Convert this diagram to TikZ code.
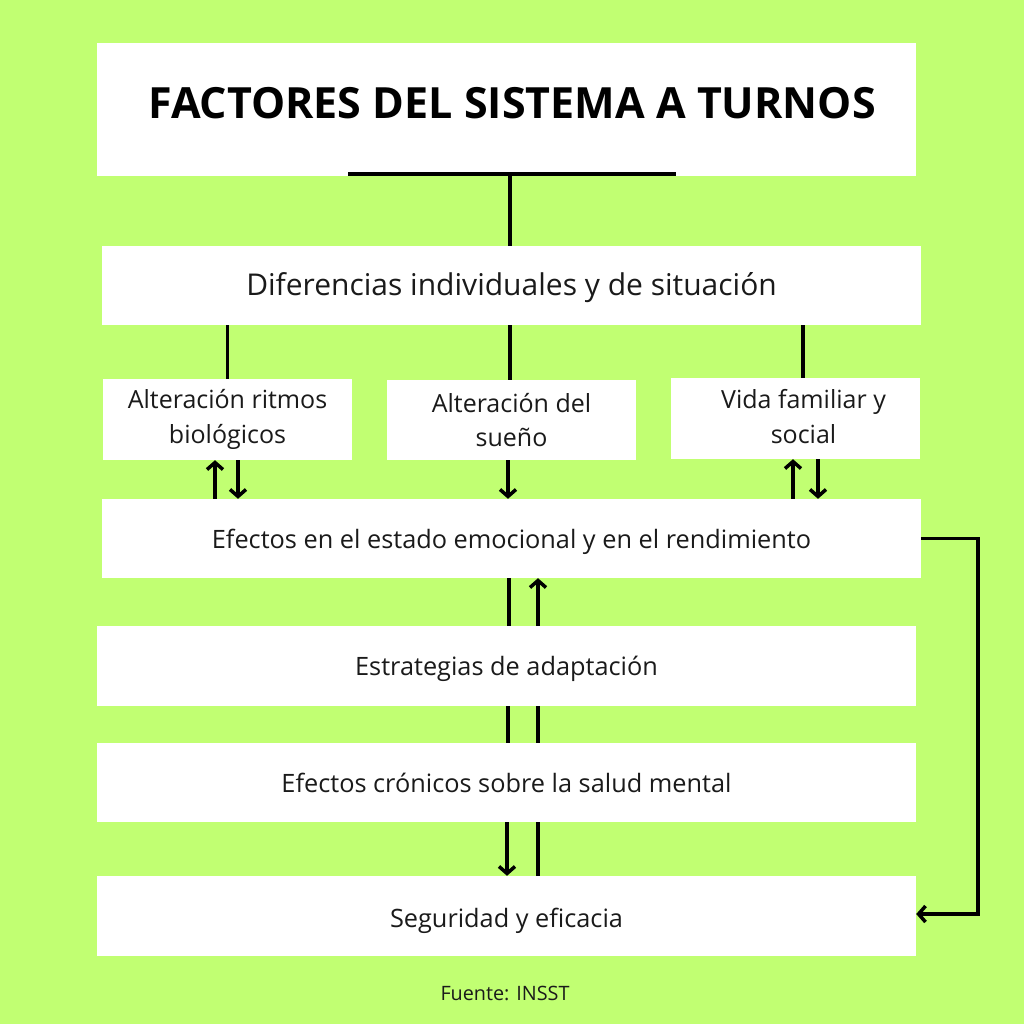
\documentclass[tikz,border=0pt]{standalone}
\usepackage{fontspec}
\setmainfont{Open Sans}
\usetikzlibrary{arrows.meta,calc}
\definecolor{bggreen}{HTML}{C1FF72}
\definecolor{txt}{HTML}{1A1A1A}
\begin{document}
\begin{tikzpicture}[x=1pt,y=-1pt,
  box/.style={draw=none,fill=white,inner sep=0pt,align=center,text=txt},
  wide/.style={box,minimum width=819pt,minimum height=79pt},
  small/.style={box,minimum width=249pt,minimum height=81pt},
  lbl/.style={inner sep=0pt,align=center,text=txt},
  conn/.style={line width=3.5pt,draw=black},
  arr/.style={conn,-{Straight Barb[length=7pt,width=16pt,line width=3.5pt]}}]
\fill[bggreen] (0,0) rectangle (1024,1024);
\useasboundingbox (0,0) rectangle (1024,1024);
% boxes
\node[box,minimum width=819pt,minimum height=133pt] (T) at (506.5,109.5) {};
\node[text=black,font=\bfseries\fontsize{43}{50}\selectfont] (Tt) at (512,103) {FACTORES DEL SISTEMA A TURNOS};
\node[wide] (D) at (511.5,285.5) {};
\node[lbl,font=\fontsize{30}{36}\selectfont] (Dt) at ([yshift=-2pt]D.center) {Diferencias individuales y de situación};
\node[small,font=\fontsize{25}{34.5}\selectfont] (A) at (227.5,419.5) {Alteración ritmos\\biológicos};
\node[small,minimum height=80pt,font=\fontsize{25}{34.5}\selectfont] (B) at (511.5,420) {Alteración del\\sueño};
\node[small] (C) at (795.5,418.5) {};
\node[lbl,font=\fontsize{25}{34.5}\selectfont] (Ct) at ([xshift=8pt,yshift=2pt]C.center) {Vida familiar y\\social};
\node[wide] (E) at (511.5,538.5) {};
\node[lbl,font=\fontsize{25.3}{30}\selectfont] (Et) at ([yshift=-3pt]E.center) {Efectos en el estado emocional y en el rendimiento};
\node[wide,minimum height=80pt] (F) at (506.5,666) {};
\node[lbl,font=\fontsize{25.3}{30}\selectfont] (Ft) at ([yshift=-3pt]F.center) {Estrategias de adaptación};
\node[wide,font=\fontsize{25.3}{30}\selectfont] (G) at (506.5,782.5) {Efectos crónicos sobre la salud mental};
\node[wide,minimum height=80pt] (H) at (506.5,916) {};
\node[lbl,font=\fontsize{25.3}{30}\selectfont] (Ht) at ([yshift=-5pt]H.center) {Seguridad y eficacia};
\node[text=txt,font=\fontsize{19.8}{23}\selectfont] (S) at (505,993) {Fuente: INSST};
% title connectors
\coordinate (tl) at (348,174);
\coordinate (tr) at (676,174);
\coordinate (tm) at (510,174);
\draw[conn] (tl) -- (tr);
\draw[conn] (tm) -- (tm |- D.north);
% D to row
\draw[conn] (A.north |- D.south) -- (A.north);
\draw[conn] ([xshift=-1.5pt]B.north |- D.south) -- ([xshift=-1.5pt]B.north);
\draw[conn] ([xshift=7.5pt]C.north |- D.south) -- ([xshift=7.5pt]C.north);
% row to E
\draw[arr] ([xshift=-12.5pt]A.south |- E.north) -- ([xshift=-12.5pt]A.south);
\draw[arr] ([xshift=10.5pt]A.south) -- ([xshift=10.5pt]A.south |- E.north);
\draw[arr] ([xshift=-3.5pt]B.south) -- ([xshift=-3.5pt]B.south |- E.north);
\draw[arr] ([xshift=-2.5pt]C.south |- E.north) -- ([xshift=-2.5pt]C.south);
\draw[arr] ([xshift=22.5pt]C.south) -- ([xshift=22.5pt]C.south |- E.north);
% E - F
\draw[conn] ([xshift=-2.5pt]E.south) -- ([xshift=-2.5pt]E.south |- F.north);
\draw[arr] ([xshift=26.5pt]E.south |- F.north) -- ([xshift=26.5pt]E.south);
% F - G
\draw[conn] ([xshift=1.5pt]F.south) -- ([xshift=1.5pt]F.south |- G.north);
\draw[conn] ([xshift=31.5pt]F.south) -- ([xshift=31.5pt]F.south |- G.north);
% G - H
\draw[arr] ([xshift=0.5pt]G.south) -- ([xshift=0.5pt]G.south |- H.north);
\draw[conn] ([xshift=31.5pt]G.south) -- ([xshift=31.5pt]G.south |- H.north);
% right loop
\draw[arr] (E.east) -- ++(57,0) |- ([yshift=2pt]H.east);
\end{tikzpicture}
\end{document}
